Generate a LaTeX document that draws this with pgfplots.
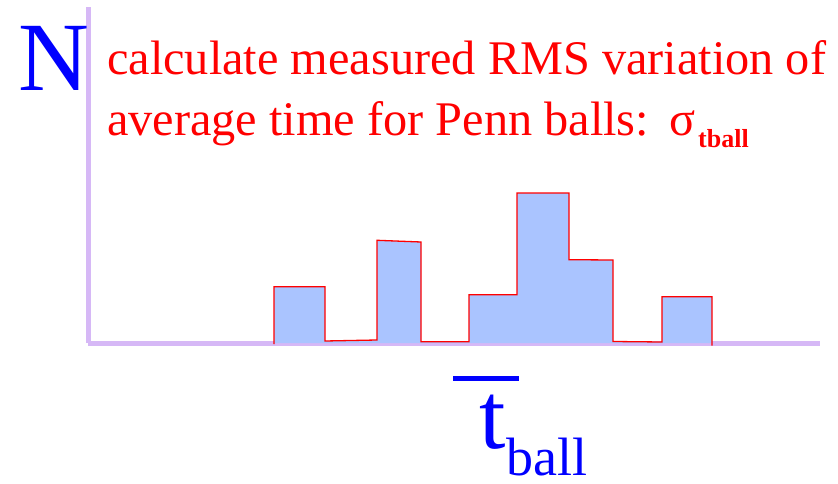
\documentclass[border=0pt]{standalone}
\usepackage{fontspec}
\setmainfont{Liberation Serif}
\newfontfamily\serifrm{Liberation Serif}
\usepackage{pgfplots}
\pgfplotsset{compat=1.18}

\definecolor{axislav}{RGB}{214,184,246}
\definecolor{histfill}{RGB}{170,196,255}

\begin{document}
\begin{tikzpicture}[x=1pt,y=1pt]
\useasboundingbox (0,0) rectangle (838,483);
\begin{axis}[
  at={(88pt,140pt)}, anchor=south west,
  scale only axis, width=732pt, height=336pt,
  xmin=88, xmax=820, ymin=0, ymax=336,
  axis lines=left,
  axis line style={-, line width=5pt, draw=axislav},
  x axis line style={-}, y axis line style={-},
  xtick=\empty, ytick=\empty,
  clip=false,
]
% filled histogram of the average ball times
\addplot[draw=none, fill=histfill] coordinates {
  (274,-2.5) (274,56.3) (325,56.3) (325,2) (377,3) (377,102.7) (421,101)
  (421,1.3) (469,1.3) (469,48.3) (517,48.3) (517,150) (569,150) (569,83.3)
  (613,83) (613,1.5) (662,1) (662,46.3) (712,46.3) (712,-2.5)
} \closedcycle;
% red outline of the histogram (open at the base)
\addplot[draw=red, line width=1.3pt, line join=miter] coordinates {
  (274,-1) (274,56.3) (325,56.3) (325,2) (377,3) (377,102.7) (421,101)
  (421,1.3) (469,1.3) (469,48.3) (517,48.3) (517,150) (569,150) (569,83.3)
  (613,83) (613,1.5) (662,1) (662,46.3) (712,46.3) (712,-2.5)
};
\end{axis}

% axis labels
\node[anchor=base west, inner sep=0, text=blue, font=\serifrm\fontsize{98}{100}\selectfont] at (18,392) {N};
\node[anchor=base west, inner sep=0, text=blue, font=\serifrm\fontsize{95}{100}\selectfont] at (479,35) {t};
\node[anchor=base west, inner sep=0, text=blue, font=\serifrm\fontsize{54}{60}\selectfont] at (506,8) {ball};
\draw[blue, line width=5pt] (453,105) -- (519,105);

% annotation
\node[anchor=base west, inner sep=0, text=red, font=\serifrm\fontsize{48.3}{60}\selectfont] at (107,408) {calculate measured RMS variation of};
\node[anchor=base west, inner sep=0, text=red, font=\serifrm\fontsize{48.3}{60}\selectfont] at (107,348) {average time for Penn balls:};
\node[anchor=base west, inner sep=0, text=red, font=\serifrm\fontsize{48.3}{60}\selectfont] at (669,348) {σ};
\node[anchor=base west, inner sep=0, text=red, font=\serifrm\bfseries\fontsize{26}{30}\selectfont] at (698,335) {tball};
\end{tikzpicture}
\end{document}
